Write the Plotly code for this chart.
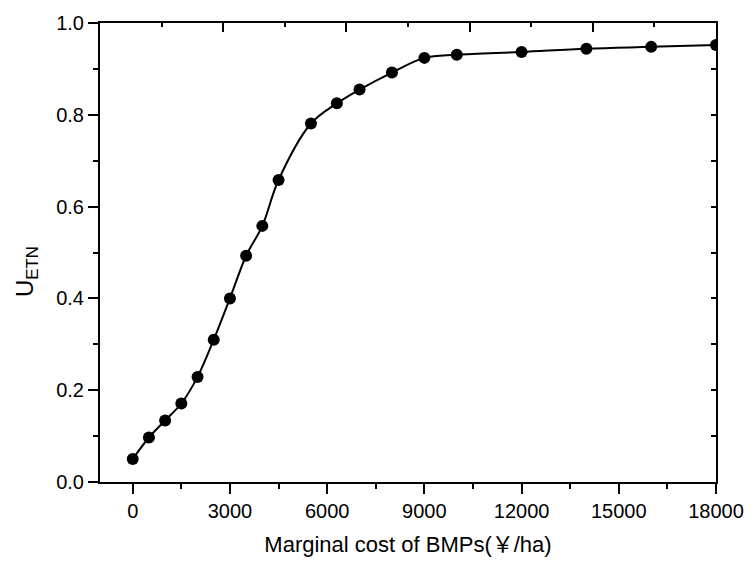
import plotly.graph_objects as go

cost = [0, 500, 1000, 1500, 2000, 2500, 3000, 3500, 4000, 4500, 5500, 6300,
        7000, 8000, 9000, 10000, 12000, 14000, 16000, 18000]
u_etn = [0.050, 0.097, 0.134, 0.171, 0.229, 0.310, 0.400, 0.493, 0.558, 0.658,
         0.781, 0.825, 0.855, 0.892, 0.924, 0.931, 0.937, 0.944, 0.948, 0.952]
x_ticks = [0, 3000, 6000, 9000, 12000, 15000, 18000]
y_ticks = [0.0, 0.2, 0.4, 0.6, 0.8, 1.0]

font = "Liberation Sans, Arial, Noto Sans CJK SC, sans-serif"

fig = go.Figure()
fig.add_trace(go.Scatter(
    x=cost, y=u_etn, mode="lines+markers",
    line=dict(color="black", width=2, shape="spline", smoothing=1.0),
    marker=dict(color="black", size=12),
    showlegend=False,
))
# dummy trace for the mirrored top/right axes
fig.add_trace(go.Scatter(x=[None], y=[None], xaxis="x2", yaxis="y2", showlegend=False))

fig.update_layout(
    width=756, height=565,
    margin=dict(l=100, r=35, t=20, b=83),
    paper_bgcolor="white", plot_bgcolor="white",
    font=dict(family=font, color="black"),
    xaxis=dict(
        range=[-1010, 18000], tickvals=x_ticks,
        ticktext=[str(v) for v in x_ticks],
        ticks="outside", ticklen=10, tickwidth=1.5, tickcolor="black",
        minor=dict(dtick=1500, tick0=0, ticks="outside", ticklen=5, tickwidth=1.5, tickcolor="black"),
        showline=True, linecolor="black", linewidth=2,
        showgrid=False, zeroline=False,
        tickfont=dict(size=20),
        title=dict(text="Marginal cost of BMPs(￥/ha)", font=dict(size=22), standoff=16),
    ),
    yaxis=dict(
        range=[0, 1.0], tickvals=y_ticks,
        ticktext=["%.1f" % v for v in y_ticks],
        ticks="outside", ticklen=10, tickwidth=1.5, tickcolor="black",
        minor=dict(dtick=0.1, tick0=0, ticks="outside", ticklen=5, tickwidth=1.5, tickcolor="black"),
        showline=True, linecolor="black", linewidth=2,
        showgrid=False, zeroline=False,
        tickfont=dict(size=20),
    ),
    xaxis2=dict(
        overlaying="x", side="top", range=[0, 10], dtick=2, tick0=0,
        ticks="inside", ticklen=9, tickwidth=1.5, tickcolor="black",
        minor=dict(dtick=1, tick0=0, ticks="inside", ticklen=4, tickwidth=1.5, tickcolor="black"),
        showticklabels=False, showline=True, linecolor="black", linewidth=2,
        showgrid=False, zeroline=False,
    ),
    yaxis2=dict(
        overlaying="y", side="right", range=[0, 1.0], dtick=0.1, tick0=0,
        ticks="inside", ticklen=5, tickwidth=1.5, tickcolor="black",
        showticklabels=False, showline=True, linecolor="black", linewidth=2,
        showgrid=False, zeroline=False,
    ),
    annotations=[dict(
        text="U<sub>ETN</sub>", textangle=-90, showarrow=False,
        xref="paper", yref="paper",
        x=(26 - 100) / 621, y=(482 - 270) / 462,
        xanchor="center", yanchor="middle",
        font=dict(size=24, family=font, color="black"),
    )],
)

fig.write_html("out.html")
